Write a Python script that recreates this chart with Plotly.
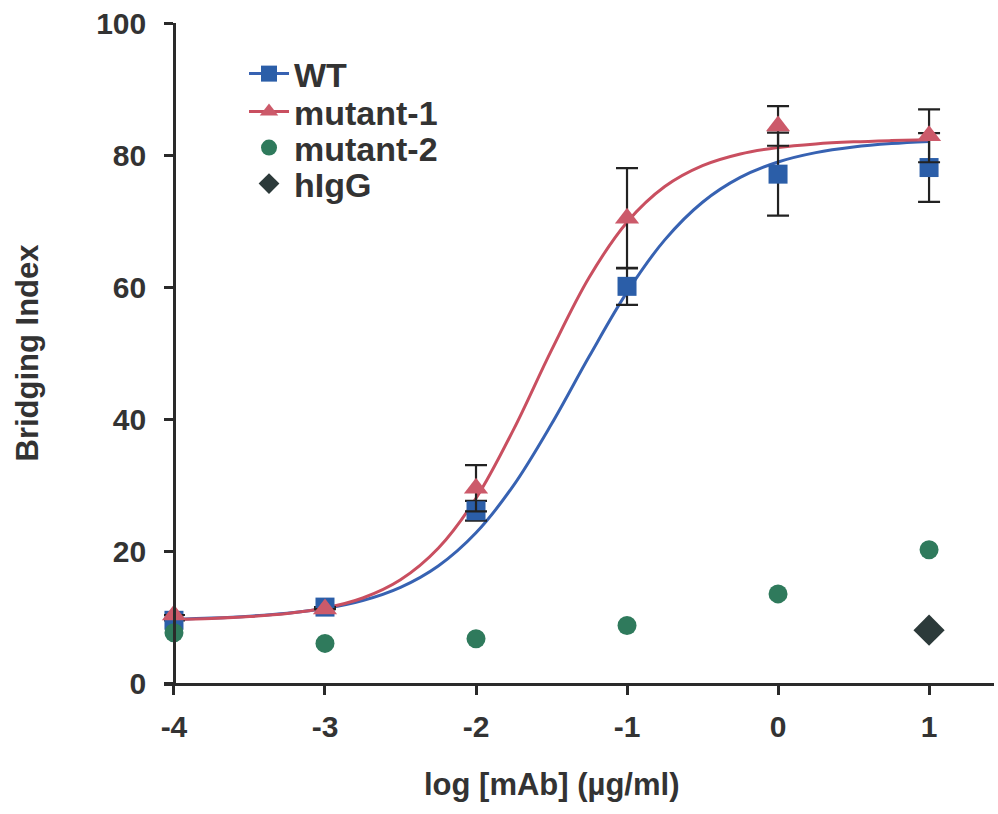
import plotly.graph_objects as go

# ---- data ----
log_conc = [-4, -3, -2, -1, 0, 1]

wt_mean = [9.5, 11.5, 26.1, 60.1, 77.1, 78.1]
wt_err = [None, None, 1.5, 2.8, 6.3, 5.2]

mut1_mean = [10.3, 11.2, 29.5, 70.4, 84.4, 82.9]
mut1_err = [None, None, 3.5, 7.6, 3.0, 4.0]

mut2_mean = [7.6, 6.0, 6.7, 8.7, 13.5, 20.2]

higg_conc = [1]
higg_mean = [8.0]

# fitted curves, read at 0.25 log steps
curve_x = [-4, -3.75, -3.5, -3.25, -3, -2.75, -2.5, -2.25, -2, -1.75, -1.5,
           -1.25, -1, -0.75, -0.5, -0.25, 0, 0.25, 0.5, 0.75, 1]
wt_curve = [9.65, 9.84, 10.13, 10.57, 11.29, 12.49, 14.49, 17.73, 22.76, 29.98,
            39.23, 49.50, 59.22, 67.14, 72.84, 76.60, 78.94, 80.36, 81.21, 81.73, 82.05]
mut1_curve = [9.61, 9.78, 10.06, 10.53, 11.36, 12.88, 15.64, 20.41, 27.99, 38.47,
              50.44, 61.48, 69.82, 75.22, 78.39, 80.16, 81.14, 81.68, 81.99, 82.18, 82.32]

y_ticks = [0, 20, 40, 60, 80, 100]
x_ticks = [-4, -3, -2, -1, 0, 1]

x_title = "log [mAb] (µg/ml)"
y_title = "Bridging Index"

# ---- style ----
BLUE = "#2b5ea8"
BLUE_LINE = "#3762b2"
RED = "#cc5a6a"
RED_LINE = "#c94f60"
GREEN = "#2f7a5c"
DARK = "#2c3a3a"
AX = "#2a2a2a"
TXT = "#333333"
FONT = "Liberation Sans, Arial, sans-serif"

fig = go.Figure()

# fitted curves
fig.add_trace(go.Scatter(x=curve_x, y=wt_curve, mode="lines", line=dict(color=BLUE_LINE, width=3, shape="spline"),
                         showlegend=False, hoverinfo="skip", cliponaxis=False))
fig.add_trace(go.Scatter(x=curve_x, y=mut1_curve, mode="lines", line=dict(color=RED_LINE, width=3, shape="spline"),
                         showlegend=False, hoverinfo="skip", cliponaxis=False))

err_style = dict(type="data", visible=True, color="#222222", thickness=2.2, width=11)

fig.add_trace(go.Scatter(x=log_conc, y=wt_mean, mode="markers", name="WT",
                         marker=dict(symbol="square", size=19, color=BLUE),
                         error_y=dict(array=wt_err, **err_style),
                         showlegend=False, cliponaxis=False))
fig.add_trace(go.Scatter(x=log_conc, y=mut1_mean, mode="markers", name="mutant-1",
                         marker=dict(symbol="triangle-up", size=21, color=RED),
                         error_y=dict(array=mut1_err, **err_style),
                         showlegend=False, cliponaxis=False))
fig.add_trace(go.Scatter(x=log_conc, y=mut2_mean, mode="markers", name="mutant-2",
                         marker=dict(symbol="circle", size=19, color=GREEN),
                         showlegend=True, legend="legend3", cliponaxis=False))
fig.add_trace(go.Scatter(x=higg_conc, y=higg_mean, mode="markers", name="hIgG",
                         marker=dict(symbol="diamond", size=24, color=DARK),
                         showlegend=True, legend="legend4", cliponaxis=False))

# legend entries showing line + marker for the fitted series
fig.add_trace(go.Scatter(x=[None], y=[None], mode="lines+markers", name="WT",
                         line=dict(color=BLUE_LINE, width=3),
                         marker=dict(symbol="square", size=19, color=BLUE), legend="legend"))
fig.add_trace(go.Scatter(x=[None], y=[None], mode="lines+markers", name="mutant-1",
                         line=dict(color=RED_LINE, width=3),
                         marker=dict(symbol="triangle-up", size=21, color=RED), legend="legend2"))

LEG_FONT = dict(family=FONT, size=34, color=TXT, weight="bold")


def leg(yc):
    return dict(x=0.0964, y=yc, xanchor="left", yanchor="middle", font=LEG_FONT,
                bgcolor="rgba(0,0,0,0)", itemwidth=40, borderwidth=0)


fig.update_layout(
    width=998, height=814,
    margin=dict(l=164, r=4, t=23, b=131),
    paper_bgcolor="white", plot_bgcolor="white",
    font=dict(family=FONT, size=30, color=TXT),
    legend=leg(0.9227),
    legend2=leg(0.8652),
    legend3=leg(0.8106),
    legend4=leg(0.7561),
    xaxis=dict(range=[-4.066, 1.43], tickvals=x_ticks, ticktext=[str(v) for v in x_ticks],
               automargin=False,
               showgrid=False, zeroline=False, showline=True, linecolor=AX, linewidth=2.5,
               ticks="outside", ticklen=9, tickwidth=2.5, tickcolor=AX, ticklabelstandoff=6,
               tickfont=dict(family=FONT, size=30, color=TXT, weight="bold")),
    yaxis=dict(range=[0, 100], tickvals=y_ticks, anchor="free", position=0.066 / 5.496,
               automargin=False,
               showgrid=False, zeroline=False, showline=True, linecolor=AX, linewidth=2.5,
               ticks="outside", ticklen=9, tickwidth=2.5, tickcolor=AX, ticklabelstandoff=12,
               tickfont=dict(family=FONT, size=30, color=TXT, weight="bold"),
               title=dict(text=y_title, standoff=47,
                          font=dict(family=FONT, size=31, color=TXT, weight="bold"))),
)

# x-axis title centred under the data span (-4 .. 1), as in the original
fig.add_annotation(text=x_title, xref="x", x=(x_ticks[0] + x_ticks[-1]) / 2,
                   yref="paper", y=-0.1545, yanchor="middle", xanchor="center",
                   showarrow=False, font=dict(family=FONT, size=31, color=TXT, weight="bold"))

fig.write_html("out.html", config={"displayModeBar": False},
               post_script="document.body.style.margin='0px';")
